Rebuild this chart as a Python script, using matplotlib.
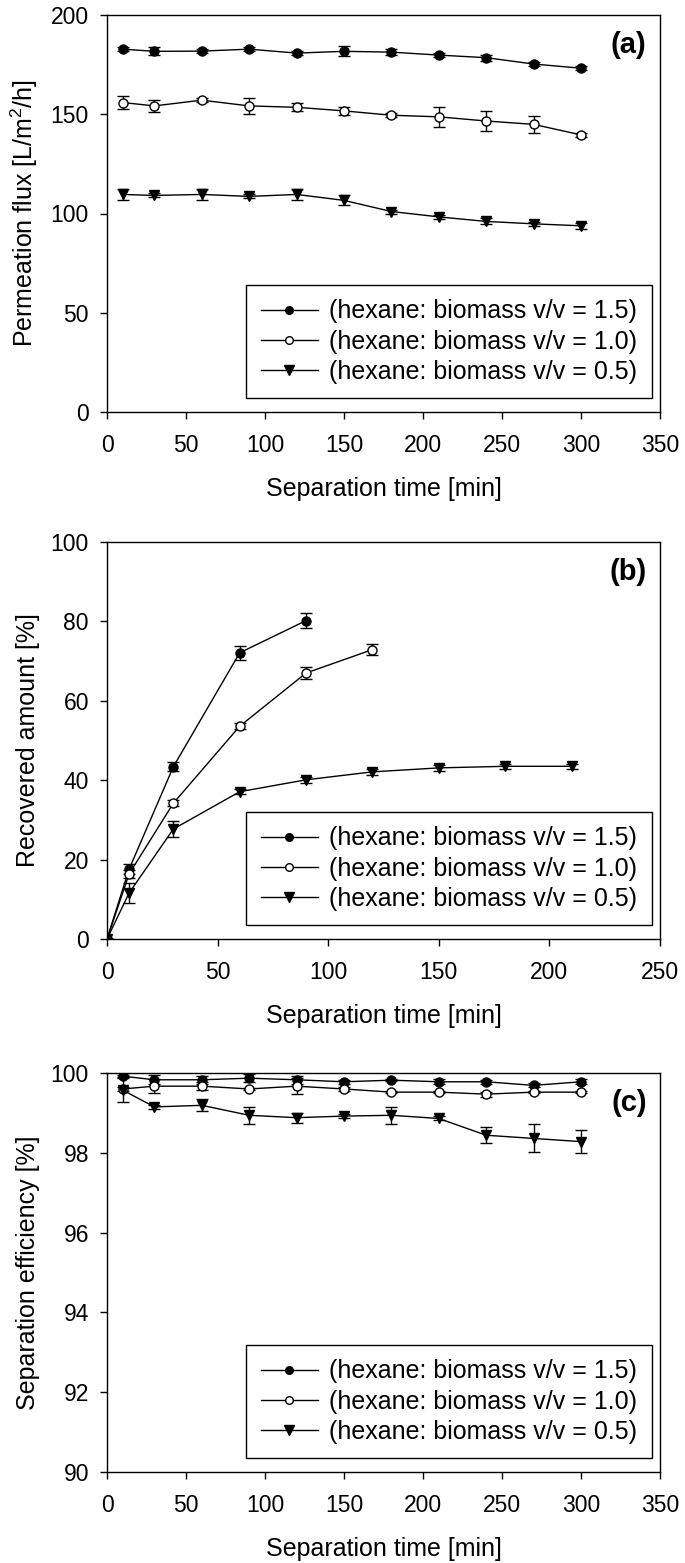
import matplotlib
matplotlib.use("Agg")
import matplotlib.pyplot as plt
from matplotlib.lines import Line2D
import numpy as np

plt.rcParams['font.family'] = ['Liberation Sans', 'DejaVu Sans']
plt.rcParams['mathtext.fontset'] = 'custom'
plt.rcParams['mathtext.rm'] = 'Liberation Sans'

labels = ["(hexane: biomass v/v = 1.5)", "(hexane: biomass v/v = 1.0)", "(hexane: biomass v/v = 0.5)"]

# Panel (a): permeation flux
t_a = [10, 30, 60, 90, 120, 150, 180, 210, 240, 270, 300]
flux_15 = [182.8, 181.7, 181.8, 182.8, 180.8, 181.7, 181.3, 179.8, 178.5, 175.3, 173.2]
flux_15_err = [1.0, 2.0, 1.0, 1.0, 1.0, 2.5, 1.5, 1.0, 1.5, 1.0, 1.0]
flux_10 = [155.9, 154.2, 157.1, 154.2, 153.5, 151.7, 149.5, 148.7, 146.6, 144.9, 139.6]
flux_10_err = [3.3, 2.9, 1.0, 4.2, 2.1, 2.2, 1.0, 5.0, 5.0, 4.3, 1.0]
flux_05 = [109.6, 109.1, 109.6, 108.6, 109.6, 106.6, 101.0, 98.3, 96.0, 94.8, 93.8]
flux_05_err = [2.7, 1.0, 2.7, 1.0, 2.7, 2.5, 1.0, 1.0, 1.5, 1.0, 1.5]

# Panel (b): recovered amount
t_b15 = [0, 10, 30, 60, 90]
rec_15 = [0.0, 17.6, 43.4, 72.1, 80.2]
rec_15_err = [0.0, 1.2, 1.1, 1.8, 1.8]
t_b10 = [0, 10, 30, 60, 90, 120]
rec_10 = [0.0, 16.4, 34.2, 53.6, 67.0, 72.9]
rec_10_err = [0.0, 1.0, 0.8, 0.8, 1.5, 1.3]
t_b05 = [0, 10, 30, 60, 90, 120, 150, 180, 210]
rec_05 = [0.0, 11.6, 27.7, 37.1, 40.1, 42.1, 43.1, 43.5, 43.5]
rec_05_err = [0.0, 2.5, 2.1, 0.7, 0.7, 0.7, 0.7, 0.7, 0.7]

# Panel (c): separation efficiency
t_c = [10, 30, 60, 90, 120, 150, 180, 210, 240, 270, 300]
eff_15 = [99.92, 99.83, 99.83, 99.87, 99.83, 99.78, 99.82, 99.78, 99.78, 99.69, 99.78]
eff_15_err = [0.03, 0.11, 0.10, 0.10, 0.10, 0.05, 0.03, 0.06, 0.05, 0.05, 0.06]
eff_10 = [99.60, 99.67, 99.67, 99.60, 99.67, 99.60, 99.52, 99.52, 99.47, 99.52, 99.52]
eff_10_err = [0.05, 0.17, 0.10, 0.03, 0.20, 0.05, 0.03, 0.03, 0.06, 0.03, 0.03]
eff_05 = [99.57, 99.15, 99.19, 98.94, 98.88, 98.92, 98.94, 98.86, 98.44, 98.36, 98.28]
eff_05_err = [0.30, 0.05, 0.15, 0.21, 0.13, 0.05, 0.21, 0.05, 0.20, 0.35, 0.28]

W, H = 685, 1563
fig = plt.figure(figsize=(W / 100, H / 100), dpi=100)

left = 107 / W
width = 553 / W
ax_a = fig.add_axes([left, 1 - 412 / H, width, 397 / H])
ax_b = fig.add_axes([left, 1 - 939 / H, width, 397 / H])
ax_c = fig.add_axes([left, 1 - 1472 / H, width, 399 / H])

styles = [
    dict(marker='o', markerfacecolor='black', markeredgecolor='black', markersize=6.5),
    dict(marker='o', markerfacecolor='white', markeredgecolor='black', markersize=6.5, markeredgewidth=1.0),
    dict(marker='v', markerfacecolor='black', markeredgecolor='black', markersize=7.5),
]


def plot_series(ax, x, y, e, st):
    ax.errorbar(x, y, yerr=e, color='black', linewidth=1.0, elinewidth=1.0,
                capsize=4.3, capthick=1.0, **st)


def style_axes(ax, xlim, xticks, ylim, yticks, ylabel, tag):
    ax.set_xlim(*xlim)
    ax.set_ylim(*ylim)
    ax.set_xticks(xticks)
    ax.set_yticks(yticks)
    ax.tick_params(axis='both', direction='out', length=5, width=1.0, labelsize=16.5, top=False, right=False)
    ax.tick_params(axis='x', pad=11)
    ax.tick_params(axis='y', pad=8)
    for s in ax.spines.values():
        s.set_linewidth(1.0)
    ax.set_xlabel('Separation time [min]', fontsize=18, labelpad=14)
    ax.set_ylabel(ylabel, fontsize=18, labelpad=8)
    ax.text(0.976, 0.925, tag, transform=ax.transAxes, ha='right', va='center',
            fontsize=21, fontweight='bold')


# (a)
plot_series(ax_a, t_a, flux_15, flux_15_err, styles[0])
plot_series(ax_a, t_a, flux_10, flux_10_err, styles[1])
plot_series(ax_a, t_a, flux_05, flux_05_err, styles[2])
style_axes(ax_a, (0, 350), np.arange(0, 351, 50), (0, 200), np.arange(0, 201, 50),
           r'Permeation flux [L/m$^2$/h]', '(a)')

# (b)
plot_series(ax_b, t_b15, rec_15, rec_15_err, styles[0])
plot_series(ax_b, t_b10, rec_10, rec_10_err, styles[1])
plot_series(ax_b, t_b05, rec_05, rec_05_err, styles[2])
style_axes(ax_b, (0, 250), np.arange(0, 251, 50), (0, 100), np.arange(0, 101, 20),
           'Recovered amount [%]', '(b)')

# (c)
plot_series(ax_c, t_c, eff_15, eff_15_err, styles[0])
plot_series(ax_c, t_c, eff_10, eff_10_err, styles[1])
plot_series(ax_c, t_c, eff_05, eff_05_err, styles[2])
style_axes(ax_c, (0, 350), np.arange(0, 351, 50), (90, 100), np.arange(90, 101, 2),
           'Separation efficiency [%]', '(c)')

leg_styles = [
    dict(marker='o', markerfacecolor='black', markeredgecolor='black', markersize=5.5),
    dict(marker='o', markerfacecolor='white', markeredgecolor='black', markersize=5.5, markeredgewidth=1.0),
    dict(marker='v', markerfacecolor='black', markeredgecolor='black', markersize=7),
]
handles = [Line2D([], [], color='black', linewidth=1.0, **st) for st in leg_styles]

leg_kw = dict(fontsize=18, frameon=True, fancybox=False, shadow=False, handlelength=2.3,
              handletextpad=0.45, labelspacing=0.25, borderpad=0.57, borderaxespad=0.0)
for ax in (ax_a, ax_b, ax_c):
    leg = ax.legend(handles, labels, loc='lower right', bbox_to_anchor=(0.985, 0.035), **leg_kw)
    leg.get_frame().set_edgecolor('black')
    leg.get_frame().set_linewidth(1.0)
    leg.get_frame().set_alpha(1)

fig.savefig('out.png', dpi=100)
